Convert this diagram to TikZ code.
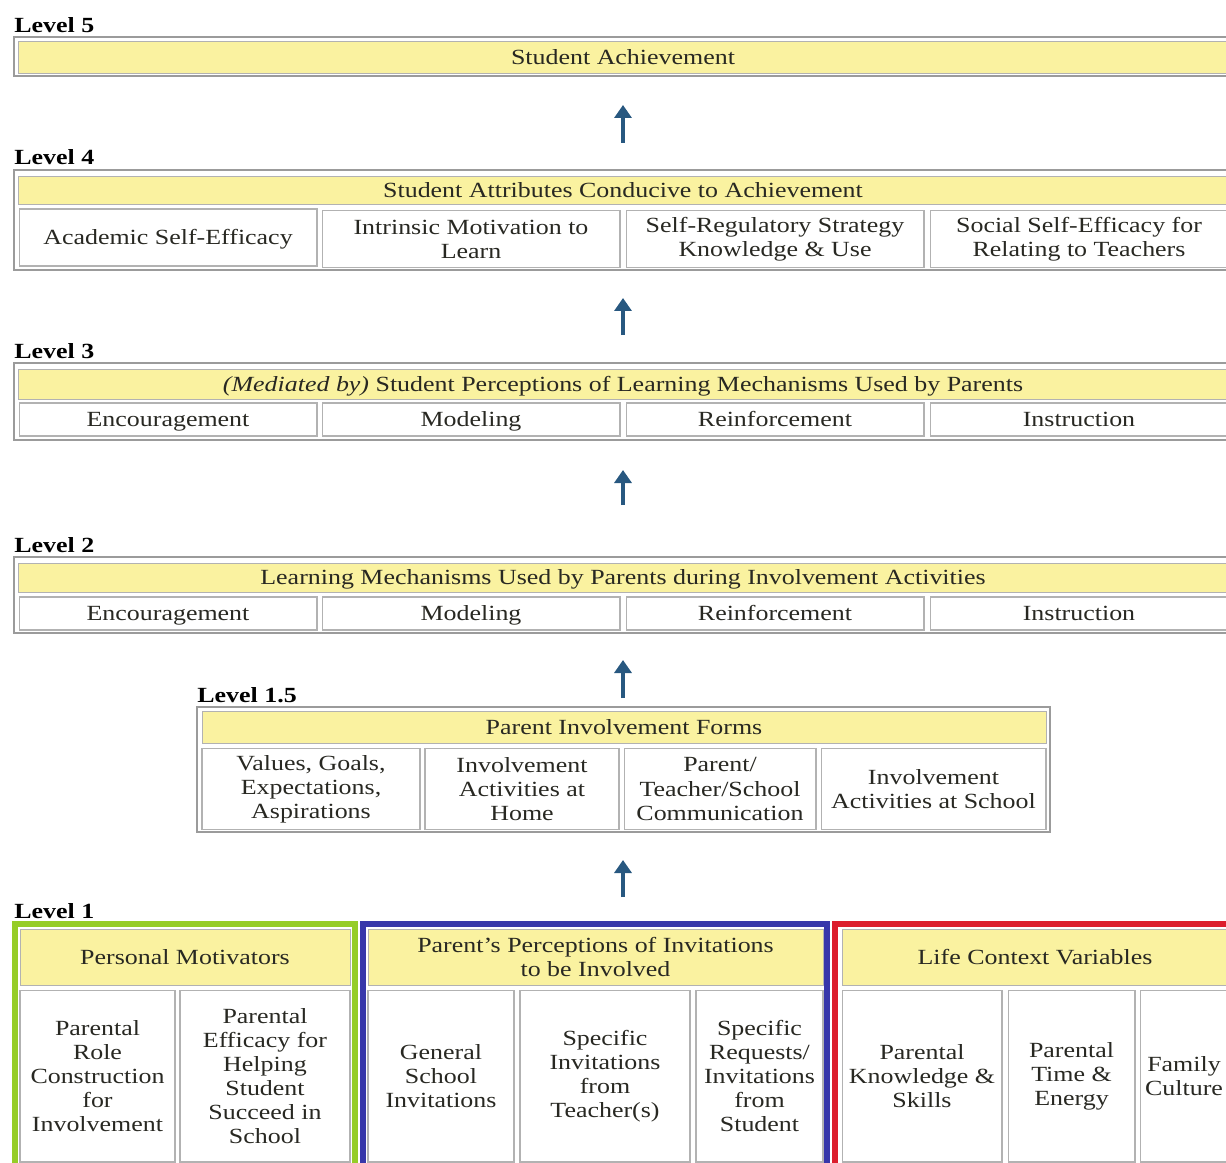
\documentclass[tikz,border=0pt]{standalone}
\usepackage{fontspec}
\setmainfont{Liberation Serif}[FakeStretch=1.2]
\usetikzlibrary{arrows.meta}
\definecolor{hdryellow}{RGB}{250,242,160}
\definecolor{cellgray}{RGB}{178,178,178}
\definecolor{framegray}{RGB}{155,155,155}
\definecolor{txtgray}{RGB}{40,40,34}
\definecolor{arrowblue}{RGB}{40,88,128}
\definecolor{grpgreen}{RGB}{150,205,40}
\definecolor{grpblue}{RGB}{55,55,170}
\definecolor{grpred}{RGB}{220,30,45}

\begin{document}
\begin{tikzpicture}[x=0.02cm,y=-0.02cm]
\tikzstyle{every node}=[font=\fontsize{12.3}{13.7}\selectfont,text=txtgray]
\tikzstyle{lvl}=[anchor=west,inner sep=0pt,font=\fontsize{12.3}{13.7}\selectfont\bfseries,text=black]
\tikzstyle{hdr}=[rectangle,draw=cellgray,fill=hdryellow,line width=0.4pt,inner sep=0pt,align=center]
\tikzstyle{cell}=[rectangle,draw=cellgray,fill=white,line width=0.6pt,inner sep=0pt,align=center]
\tikzstyle{oneline}=[text height=10.5pt,text depth=2.2pt]
\tikzstyle{frame}=[draw=framegray,line width=0.9pt]
\tikzstyle{grp}=[line width=0.12cm]
\tikzstyle{uparrow}=[draw=arrowblue,line width=2.5pt,-{Triangle[length=2.6mm,width=3.4mm]}]
\useasboundingbox (0,0) rectangle (1226,1162);
\fill[white] (0,0) rectangle (1226,1162);
\clip (0,0) rectangle (1226,1162);

% level 5
\node[lvl] (lab5) at (14,25) {Level 5};
\draw[frame] (14,37) rectangle (1232,76);
\node[hdr,oneline,minimum width=24.2cm,minimum height=0.64cm] (l5) at (623,57) {Student Achievement};

% level 4
\node[lvl] (lab4) at (14,157) {Level 4};
\draw[frame] (14,170) rectangle (1232,270);
\node[hdr,oneline,minimum width=24.2cm,minimum height=0.56cm] (l4) at (623,190) {Student Attributes Conducive to Achievement};
\node[cell,oneline,minimum width=5.96cm,minimum height=1.14cm] (l4a) at (168,237.5) {Academic Self-Efficacy};
\node[cell,minimum width=5.96cm,minimum height=1.14cm] (l4b) at (471,239) {Intrinsic Motivation to\\Learn};
\node[cell,minimum width=5.96cm,minimum height=1.14cm] (l4c) at (775,239) {Self-Regulatory Strategy\\Knowledge \& Use};
\node[cell,minimum width=5.96cm,minimum height=1.14cm] (l4d) at (1079,239) {Social Self-Efficacy for\\Relating to Teachers};

% level 3
\node[lvl] (lab3) at (14,351) {Level 3};
\draw[frame] (14,363) rectangle (1232,440);
\node[hdr,oneline,minimum width=24.2cm,minimum height=0.6cm] (l3) at (623,384) {{\itshape (Mediated by)} Student Perceptions of Learning Mechanisms Used by Parents};
\node[cell,oneline,minimum width=5.96cm,minimum height=0.66cm] (l3a) at (168,419.5) {Encouragement};
\node[cell,oneline,minimum width=5.96cm,minimum height=0.66cm] (l3b) at (471,419.5) {Modeling};
\node[cell,oneline,minimum width=5.96cm,minimum height=0.66cm] (l3c) at (775,419.5) {Reinforcement};
\node[cell,oneline,minimum width=5.96cm,minimum height=0.66cm] (l3d) at (1079,419.5) {Instruction};

% level 2
\node[lvl] (lab2) at (14,545) {Level 2};
\draw[frame] (14,557) rectangle (1232,633);
\node[hdr,oneline,minimum width=24.2cm,minimum height=0.58cm] (l2) at (623,577.5) {Learning Mechanisms Used by Parents during Involvement Activities};
\node[cell,oneline,minimum width=5.96cm,minimum height=0.66cm] (l2a) at (168,613.5) {Encouragement};
\node[cell,oneline,minimum width=5.96cm,minimum height=0.66cm] (l2b) at (471,613.5) {Modeling};
\node[cell,oneline,minimum width=5.96cm,minimum height=0.66cm] (l2c) at (775,613.5) {Reinforcement};
\node[cell,oneline,minimum width=5.96cm,minimum height=0.66cm] (l2d) at (1079,613.5) {Instruction};

% level 1.5
\node[lvl] (lab15) at (197,695) {Level 1.5};
\draw[frame] (197,707) rectangle (1050,832);
\node[hdr,oneline,minimum width=16.88cm,minimum height=0.64cm] (l15) at (624,727) {Parent Involvement Forms};
\node[cell,minimum width=4.36cm,minimum height=1.62cm] (l15a) at (311,789) {Values, Goals,\\Expectations,\\Aspirations};
\node[cell,minimum width=3.88cm,minimum height=1.62cm] (l15b) at (522,789) {Involvement\\Activities at\\Home};
\node[cell,minimum width=3.84cm,minimum height=1.62cm] (l15c) at (720,789) {Parent/\\Teacher/School\\Communication};
\node[cell,minimum width=4.5cm,minimum height=1.62cm] (l15d) at (933.5,789) {Involvement\\Activities at School};

% level 1
\node[lvl] (lab1) at (14,911) {Level 1};
\node[hdr,oneline,minimum width=6.6cm,minimum height=1.12cm] (pm) at (185,957) {Personal Motivators};
\node[cell,minimum width=3.1cm,minimum height=3.44cm] (pma) at (97.5,1076) {Parental\\Role\\Construction\\for\\Involvement};
\node[cell,minimum width=3.4cm,minimum height=3.44cm] (pmb) at (265,1076) {Parental\\Efficacy for\\Helping\\Student\\Succeed in\\School};
\node[hdr,minimum width=9.1cm,minimum height=1.12cm] (inv) at (595.5,957) {Parent’s Perceptions of Invitations\\to be Involved};
\node[cell,minimum width=2.92cm,minimum height=3.44cm] (inva) at (441,1076) {General\\School\\Invitations};
\node[cell,minimum width=3.4cm,minimum height=3.44cm] (invb) at (605,1076) {Specific\\Invitations\\from\\Teacher(s)};
\node[cell,minimum width=2.54cm,minimum height=3.44cm] (invc) at (759.5,1076) {Specific\\Requests/\\Invitations\\from\\Student};
\node[hdr,oneline,minimum width=7.72cm,minimum height=1.12cm] (lc) at (1035,957) {Life Context Variables};
\node[cell,minimum width=3.2cm,minimum height=3.44cm] (lca) at (922,1076) {Parental\\Knowledge \&\\Skills};
\node[cell,minimum width=2.54cm,minimum height=3.44cm] (lcb) at (1071.5,1076) {Parental\\Time \&\\Energy};
\node[cell,minimum width=1.76cm,minimum height=3.44cm] (lcc) at (1184,1076) {Family\\Culture};
\draw[grp,draw=grpgreen] (15,1200) -- (15,924) -- (355,924) -- (355,1200);
\draw[grp,draw=grpblue] (363,1200) -- (363,924) -- (827,924) -- (827,1200);
\draw[grp,draw=grpred] (835,1200) -- (835,924) -- (1240,924);

% arrows
\foreach \t/\h [count=\i] in {143/105,335/298,505/470,698/660,897/860}{
  \coordinate (tail\i) at (623,\t);
  \coordinate (tip\i) at (623,\h);
  \draw[uparrow] (tail\i) -- (tip\i);
}
\end{tikzpicture}
\end{document}
